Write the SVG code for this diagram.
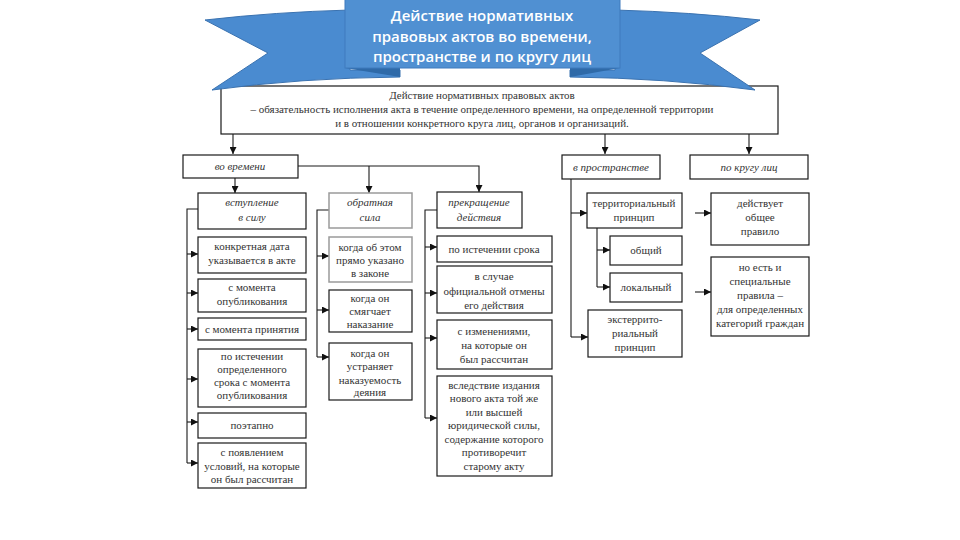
<svg xmlns="http://www.w3.org/2000/svg" width="960" height="540" viewBox="0 0 960 540">
<defs>
<marker id="ah" viewBox="0 0 8 8" refX="8" refY="4" markerWidth="7" markerHeight="7" markerUnits="userSpaceOnUse" orient="auto">
<path d="M0,0 L8,4 L0,8 Z" fill="#111"/>
</marker>
<style>
.box{fill:#fff;stroke:#1a1a1a;stroke-width:1.2}
.gbox{fill:#fff;stroke:#9a9a9a;stroke-width:1.5}
.t{font-family:"Liberation Serif","DejaVu Serif",serif;font-size:11px;fill:#333;text-anchor:middle}
.i{font-style:italic}
.c{fill:none;stroke:#1a1a1a;stroke-width:1.1}
.a{fill:none;stroke:#1a1a1a;stroke-width:1.1;marker-end:url(#ah)}
.bt{font-family:"Open Sans","Liberation Sans",sans-serif;font-size:15px;font-weight:600;fill:#fff;text-anchor:middle}
</style>
</defs>
<rect width="960" height="540" fill="#fff"/>

<g id="main">
<rect class="box" x="221" y="86" width="557" height="48"/>
<text class="t" x="482" y="99" font-size="10.5">Действие нормативных правовых актов</text>
<text class="t" x="482" y="113" font-size="10.5">– обязательность исполнения акта в течение определенного времени, на определенной территории</text>
<text class="t" x="482" y="127" font-size="10.5">и в отношении конкретного круга лиц,  органов и организаций.</text>
</g>

<g id="banner">
<path d="M205,20 Q275,12 350,10 L350,70 L400,70 L400,77 Q300,78 212,90 L268,53 Z" fill="#4a8bd0" stroke="#3a72b0"/>
<path d="M760,20 Q690,12 615,10 L615,70 L570,70 L570,77 Q665,78 755,90 L700,53 Z" fill="#4a8bd0" stroke="#3a72b0"/>
<path d="M345,68 L400,68 L400,77 Z" fill="#2f6aa8"/>
<path d="M620,68 L570,68 L570,77 Z" fill="#2f6aa8"/>
<rect x="345" y="-2" width="275" height="70" fill="#5090d2" stroke="#3f7bbd"/>
<text class="bt" x="482" y="21">Действие нормативных</text>
<text class="bt" x="482" y="42">правовых актов во времени,</text>
<text class="bt" x="482" y="62">пространстве и по кругу лиц</text>
</g>

<g id="connectors">
<path class="a" d="M233,134 V154"/>
<path class="a" d="M605,134 V154"/>
<path class="a" d="M749,134 V154"/>
<path class="a" d="M235,178 V193"/>
<path class="a" d="M298,166 H479 V192"/>
<path class="a" d="M369,166 V193"/>
<path class="c" d="M198,209 H187 V463"/>
<path class="a" d="M187,254 H198"/>
<path class="a" d="M187,293 H198"/>
<path class="a" d="M187,329 H198"/>
<path class="a" d="M187,379 H198"/>
<path class="a" d="M187,422 H198"/>
<path class="a" d="M187,463 H198"/>
<path class="c" d="M329,210 H317 V357"/>
<path class="a" d="M317,256 H329"/>
<path class="a" d="M317,310 H329"/>
<path class="a" d="M317,357 H329"/>
<path class="c" d="M437,210 H425 V418"/>
<path class="a" d="M425,247 H437"/>
<path class="a" d="M425,293 H437"/>
<path class="a" d="M425,338 H437"/>
<path class="a" d="M425,418 H437"/>
<path class="c" d="M571,179 V337"/>
<path class="a" d="M571,213 H587"/>
<path class="a" d="M571,337 H588"/>
<path class="c" d="M597,228 V287"/>
<path class="a" d="M597,250 H610"/>
<path class="a" d="M597,287 H610"/>
<path class="a" d="M695,213 H711"/>
<path class="a" d="M695,292 H711"/>
</g>

<g id="vo-vremeni"><rect class="box" x="183" y="155" width="115" height="23"/><text class="t i" x="240" y="170">во времени</text></g>
<g id="vstuplenie"><rect class="box" x="198" y="193" width="108" height="36"/><text class="t i" x="252" y="206">вступление</text><text class="t i" x="252" y="221">в силу</text></g>
<g id="data"><rect class="box" x="198" y="237" width="108" height="36"/><text class="t" x="252" y="250">конкретная дата</text><text class="t" x="252" y="264">указывается в акте</text></g>
<g id="opubl"><rect class="box" x="198" y="279" width="108" height="33"/><text class="t" x="252" y="291">с момента</text><text class="t" x="252" y="305">опубликования</text></g>
<g id="prinyatie"><rect class="box" x="198" y="318" width="108" height="22"/><text class="t" x="252" y="333">с момента принятия</text></g>
<g id="istechenie"><rect class="box" x="198" y="349" width="108" height="58"/><text class="t" x="252" y="360">по истечении</text><text class="t" x="252" y="373">определенного</text><text class="t" x="252" y="386">срока с момента</text><text class="t" x="252" y="399">опубликования</text></g>
<g id="poetapno"><rect class="box" x="198" y="413" width="108" height="25"/><text class="t" x="252" y="429">поэтапно</text></g>
<g id="poyavlenie"><rect class="box" x="198" y="443" width="108" height="45"/><text class="t" x="252" y="456">с появлением</text><text class="t" x="252" y="470">условий, на которые</text><text class="t" x="252" y="483">он был рассчитан</text></g>

<g id="obratnaya"><rect class="gbox" x="329" y="193" width="83" height="35"/><text class="t i" x="370" y="206">обратная</text><text class="t i" x="370" y="221">сила</text></g>
<g id="pryamo"><rect class="gbox" x="329" y="237" width="83" height="45"/><text class="t" x="370" y="251">когда об этом</text><text class="t" x="370" y="264">прямо указано</text><text class="t" x="370" y="277">в законе</text></g>
<g id="smyagchaet"><rect class="box" x="329" y="290" width="83" height="42"/><text class="t" x="370" y="302">когда он</text><text class="t" x="370" y="315">смягчает</text><text class="t" x="370" y="328">наказание</text></g>
<g id="ustranyaet"><rect class="box" x="329" y="343" width="83" height="57"/><text class="t" x="370" y="357">когда он</text><text class="t" x="370" y="370">устраняет</text><text class="t" x="370" y="384">наказуемость</text><text class="t" x="370" y="396">деяния</text></g>

<g id="prekrashchenie"><rect class="box" x="437" y="192" width="85" height="36"/><text class="t i" x="479" y="206">прекращение</text><text class="t i" x="479" y="221">действия</text></g>
<g id="srok"><rect class="box" x="437" y="236" width="115" height="26"/><text class="t" x="494" y="253">по истечении срока</text></g>
<g id="otmena"><rect class="box" x="437" y="266" width="115" height="47"/><text class="t" x="494" y="280">в случае</text><text class="t" x="494" y="295">официальной отмены</text><text class="t" x="494" y="309">его действия</text></g>
<g id="izmeneniya"><rect class="box" x="437" y="320" width="115" height="49"/><text class="t" x="494" y="335">с изменениями,</text><text class="t" x="494" y="349">на которые он</text><text class="t" x="494" y="363">был рассчитан</text></g>
<g id="novyi-akt"><rect class="box" x="437" y="376" width="115" height="100"/><text class="t" x="494" y="389">вследствие издания</text><text class="t" x="494" y="402">нового акта той же</text><text class="t" x="494" y="416">или высшей</text><text class="t" x="494" y="429">юридической силы,</text><text class="t" x="494" y="443">содержание которого</text><text class="t" x="494" y="456">противоречит</text><text class="t" x="494" y="470">старому акту</text></g>

<g id="prostranstvo"><rect class="box" x="562" y="155" width="98" height="24"/><text class="t i" x="611" y="171">в пространстве</text></g>
<g id="territ"><rect class="box" x="587" y="193" width="95" height="35"/><text class="t" x="634" y="207">территориальный</text><text class="t" x="634" y="221">принцип</text></g>
<g id="obshchiy"><rect class="box" x="610" y="236" width="72" height="29"/><text class="t" x="646" y="254">общий</text></g>
<g id="lokalnyi"><rect class="box" x="610" y="273" width="72" height="29"/><text class="t" x="646" y="291">локальный</text></g>
<g id="eksterrit"><rect class="box" x="588" y="310" width="94" height="47"/><text class="t" x="635" y="323">экстеррито-</text><text class="t" x="635" y="337">риальный</text><text class="t" x="635" y="351">принцип</text></g>

<g id="krug"><rect class="box" x="690" y="155" width="118" height="24"/><text class="t i" x="749" y="171">по кругу лиц</text></g>
<g id="obshchee"><rect class="box" x="711" y="193" width="98" height="52"/><text class="t" x="760" y="207">действует</text><text class="t" x="760" y="221">общее</text><text class="t" x="760" y="235">правило</text></g>
<g id="specialnye"><rect class="box" x="711" y="257" width="98" height="79"/><text class="t" x="760" y="271">но есть и</text><text class="t" x="760" y="285">специальные</text><text class="t" x="760" y="299">правила –</text><text class="t" x="760" y="313">для определенных</text><text class="t" x="760" y="327">категорий граждан</text></g>
</svg>
